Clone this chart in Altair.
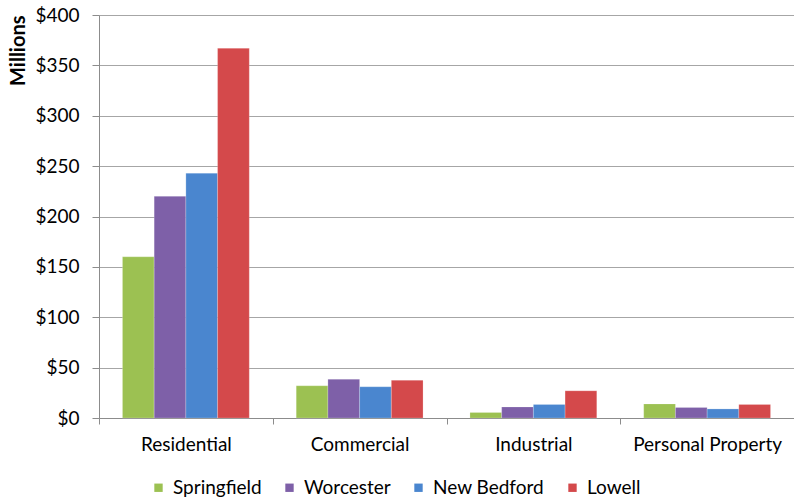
import altair as alt
import pandas as pd

categories = ["Residential", "Commercial", "Industrial", "Personal Property"]
cities = ["Springfield", "Worcester", "New Bedford", "Lowell"]
colors = ["#9CC152", "#7E60A8", "#4A86CF", "#D4494B"]

# Values in millions of dollars, one list per city (order follows categories)
springfield = [160, 32, 5.5, 14]
worcester = [220, 38.5, 11, 10.5]
new_bedford = [243, 31, 13.5, 9]
lowell = [367, 37.5, 27, 13.5]

series = {
    "Springfield": springfield,
    "Worcester": worcester,
    "New Bedford": new_bedford,
    "Lowell": lowell,
}
rows = [
    {"category": cat, "city": city, "value": vals[i]}
    for city, vals in series.items()
    for i, cat in enumerate(categories)
]
df = pd.DataFrame(rows)

FONT = "Lato"

chart = (
    alt.Chart(df)
    .mark_bar(stroke="#ffffff", strokeOpacity=0.35, strokeWidth=0.6)
    .encode(
        x=alt.X(
            "category:N",
            sort=categories,
            scale=alt.Scale(paddingInner=0, paddingOuter=0),
            axis=alt.Axis(
                title=None,
                labelAngle=0,
                labelFont=FONT,
                labelFontSize=19,
                labelColor="#000000",
                labelPadding=11,
                tickBand="extent",
                tickSize=6,
                tickColor="#8c8c8c",
                domainColor="#8c8c8c",
                grid=False,
            ),
        ),
        xOffset=alt.XOffset(
            "city:N",
            sort=cities,
            scale=alt.Scale(paddingInner=0, paddingOuter=0.74),
        ),
        y=alt.Y(
            "value:Q",
            scale=alt.Scale(domain=[0, 400], nice=False),
            axis=alt.Axis(
                title="Millions",
                titleFont=FONT,
                titleFontSize=20,
                titleFontWeight="bold",
                titleColor="#000000",
                titleAngle=270,
                titleX=-81,
                titleY=0,
                titleAlign="right",
                titleBaseline="middle",
                values=[0, 50, 100, 150, 200, 250, 300, 350, 400],
                labelExpr="'$' + datum.value",
                labelFont=FONT,
                labelFontSize=19,
                labelColor="#000000",
                labelPadding=13,
                tickSize=7,
                tickColor="#8c8c8c",
                domainColor="#8c8c8c",
                gridColor="#a6a6a6",
                gridWidth=1,
            ),
        ),
        color=alt.Color(
            "city:N",
            sort=cities,
            scale=alt.Scale(domain=cities, range=colors),
            legend=alt.Legend(
                title=None,
                orient="none",
                direction="horizontal",
                legendX=50,
                legendY=463,
                symbolType="square",
                symbolSize=70,
                symbolStrokeWidth=0,
                labelFont=FONT,
                labelFontSize=19,
                labelColor="#000000",
                labelOffset=5,
                columnPadding=18,
            ),
        ),
    )
    .properties(
        width=695,
        height=403,
        padding={"left": 99, "top": 15, "right": 0, "bottom": 80},
        autosize=alt.AutoSizeParams(type="none"),
    )
    .configure_view(stroke=None)
    .configure(background="#ffffff")
)

chart.save("out.html", embed_options={"renderer": "svg", "actions": False})
